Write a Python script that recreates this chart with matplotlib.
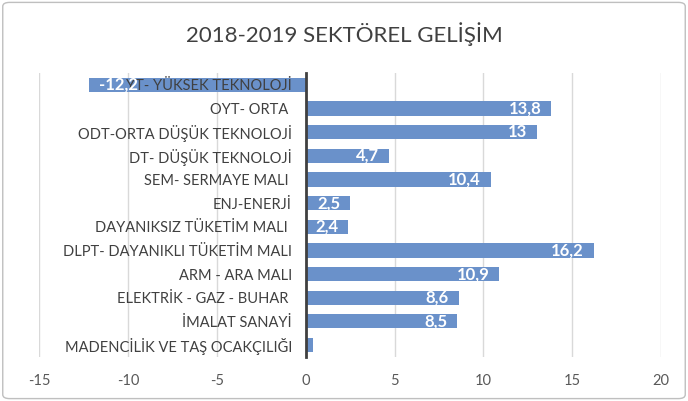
import matplotlib.pyplot as plt
from matplotlib.patches import FancyBboxPatch

plt.rcParams['font.family'] = ['Lato', 'DejaVu Sans']

# sectors, top to bottom
sectors = [
    "YT- YÜKSEK TEKNOLOJİ",
    "OYT- ORTA ",
    "ODT-ORTA DÜŞÜK TEKNOLOJİ",
    "DT- DÜŞÜK TEKNOLOJİ",
    "SEM- SERMAYE MALI ",
    "ENJ-ENERJİ",
    "DAYANIKSIZ TÜKETİM MALI ",
    "DLPT- DAYANIKLI TÜKETİM MALI",
    "ARM - ARA MALI",
    "ELEKTRİK - GAZ - BUHAR ",
    "İMALAT SANAYİ",
    "MADENCİLİK VE TAŞ OCAKÇILIĞI",
]
values = [-12.2, 13.8, 13, 4.7, 10.4, 2.5, 2.4, 16.2, 10.9, 8.6, 8.5, 0.4]
xticks = [-15, -10, -5, 0, 5, 10, 15, 20]

fig = plt.figure(figsize=(6.88, 4.01), dpi=100)
border = FancyBboxPatch((0.004, 0.006), 0.992, 0.988, boxstyle="round,pad=0,rounding_size=0.01",
                        transform=fig.transFigure, facecolor="white", edgecolor="#BFBFBF",
                        linewidth=1.0, zorder=-1)
fig.patches.append(border)

ax = fig.add_axes([0.057, 0.11, 0.904, 0.708])
ax.patch.set_alpha(0)
ax.set_axisbelow(False)  # category labels sit on top of the bars
ypos = list(range(len(sectors)))
ax.barh(ypos, values, height=0.6, color="#6A91CA", zorder=2)
ax.set_ylim(len(sectors) - 0.5, -0.5)
ax.set_xlim(-15, 20)
ax.set_xticks(xticks)
ax.set_xticklabels([str(t) for t in xticks], color="#595959", fontsize=10.5)
ax.tick_params(axis='x', length=0, pad=12)
for t in xticks:
    if t != 0:
        ax.axvline(t, color="#D9D9D9", linewidth=1, zorder=0)

for s in ["top", "right", "bottom"]:
    ax.spines[s].set_visible(False)
ax.spines["left"].set_position(("data", 0))
ax.spines["left"].set_color("#404040")
ax.spines["left"].set_linewidth(2)
ax.spines["left"].set_zorder(3)

ax.set_yticks(ypos)
ax.set_yticklabels(sectors, color="#404040", fontsize=10.5)
ax.tick_params(axis='y', length=0, pad=10)

for y, v in zip(ypos, values):
    if abs(v) < 1:
        continue
    txt = f"{v:g}".replace(".", ",")
    if v > 0:
        ax.text(v - 0.55, y, txt, ha="right", va="center", color="white",
                fontsize=12, fontweight="bold", zorder=4)
    else:
        ax.text(v + 0.55, y, txt, ha="left", va="center", color="white",
                fontsize=12, fontweight="bold", zorder=4)

fig.text(0.5, 0.915, "2018-2019 SEKTÖREL GELİŞİM", ha="center", va="center",
         fontsize=16, color="#404040")

plt.savefig("out.png", dpi=100)
